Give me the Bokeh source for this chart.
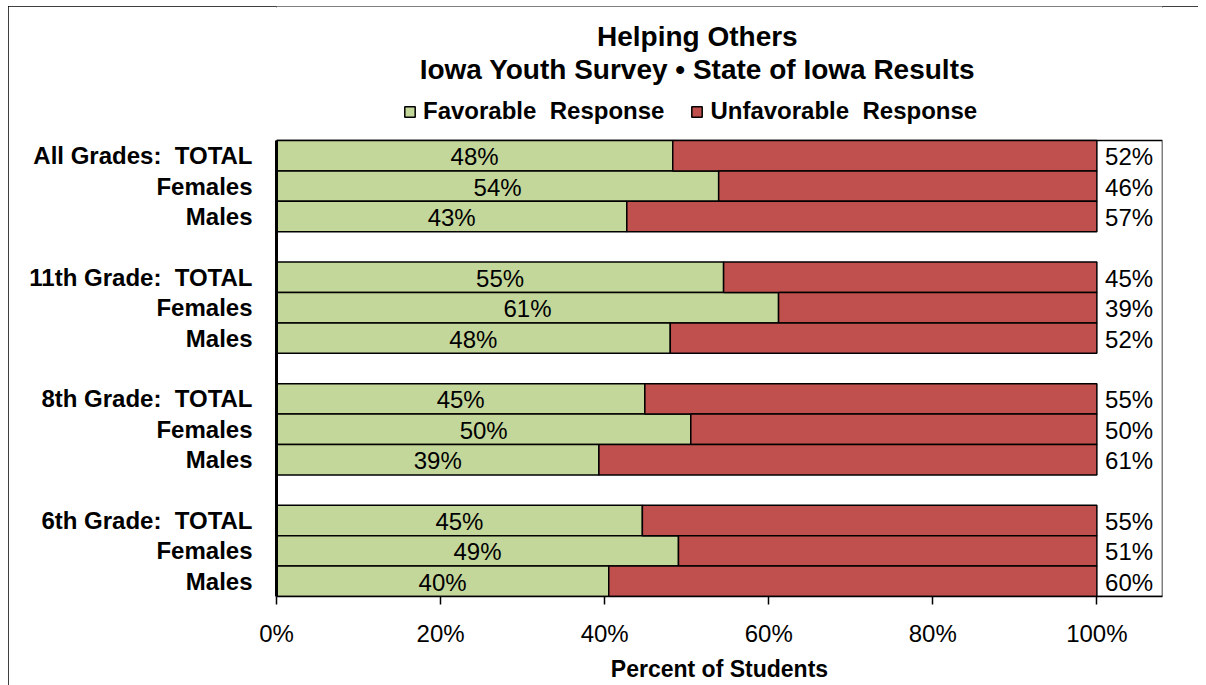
from bokeh.plotting import figure
from bokeh.models import (ColumnDataSource, FixedTicker, Range1d, Legend, LegendItem, Label)
from bokeh.core.properties import value
from bokeh.embed import file_html
from bokeh.resources import INLINE

categories = ["All Grades:\u00a0\u00a0TOTAL", "Females", "Males",
              "11th Grade:\u00a0\u00a0TOTAL", "Females", "Males",
              "8th Grade:\u00a0\u00a0TOTAL", "Females", "Males",
              "6th Grade:\u00a0\u00a0TOTAL", "Females", "Males"]
favorable = [48.3, 53.9, 42.7, 54.5, 61.2, 48.0, 44.9, 50.5, 39.3, 44.6, 49.0, 40.5]
fav_labels = ["48%", "54%", "43%", "55%", "61%", "48%", "45%", "50%", "39%", "45%", "49%", "40%"]
unfav_labels = ["52%", "46%", "57%", "45%", "39%", "52%", "55%", "50%", "61%", "55%", "51%", "60%"]
x_ticks = [0, 20, 40, 60, 80, 100]
title_lines = ["Helping Others", "Iowa Youth Survey \u2022 State of Iowa Results"]
series_names = ["Favorable\u00a0\u00a0Response", "Unfavorable\u00a0\u00a0Response"]

FONT = "Liberation Sans"
GREEN = "#C4D79B"
RED = "#C0504D"

ypos = [i + i // 3 for i in range(len(categories))]
src = ColumnDataSource(dict(
    y=ypos,
    fav=favorable,
    total=[100] * len(favorable),
    favmid=[f / 2 for f in favorable],
    favlab=fav_labels,
    unflab=unfav_labels,
    rx=[101] * len(favorable),
))

# frame covers the title area too; bar area is y in [-0.5, 14.5]
p = figure(width=1190, height=679, output_backend="svg", toolbar_location=None,
           x_range=Range1d(0, 108), y_range=Range1d(14.5, -4.908),
           min_border_left=268, min_border_right=36, min_border_top=0,
           min_border_bottom=89)
p.styles = {"outline": "2px solid black", "outline-offset": "-2px",
            "position": "relative", "left": "8px", "top": "6px"}

# plot-area box
p.quad(left=[0], right=[108], top=[-0.5], bottom=[14.5], fill_color=None,
       line_color="black", line_width=1.5)

r_fav = p.hbar(y="y", left=0, right="fav", height=1.0, source=src,
               fill_color=GREEN, line_color="black", line_width=1.5)
r_unf = p.hbar(y="y", left="fav", right="total", height=1.0, source=src,
               fill_color=RED, line_color="black", line_width=1.5)

p.text(x="favmid", y="y", text="favlab", source=src, text_align="center",
       text_baseline="middle", text_font=value(FONT), text_font_size="24px",
       text_color="black", y_offset=1)
p.text(x="rx", y="y", text="unflab", source=src, text_align="left",
       text_baseline="middle", text_font=value(FONT), text_font_size="24px",
       text_color="black", y_offset=1)

p.xgrid.visible = False
p.ygrid.visible = False
p.outline_line_color = None

# x axis
xa = p.xaxis[0]
xa.ticker = FixedTicker(ticks=x_ticks)
xa.major_label_overrides = {t: f"{t}%" for t in x_ticks}
xa.minor_tick_line_color = None
xa.major_tick_in = 0
xa.major_tick_out = 8
xa.major_tick_line_color = "black"
xa.major_tick_line_width = 1.5
xa.axis_line_color = "black"
xa.axis_line_width = 1.5
xa.major_label_text_font = FONT
xa.major_label_text_font_size = "24px"
xa.major_label_text_color = "black"
xa.major_label_standoff = 15
xa.axis_label = "Percent of Students"
xa.axis_label_text_font = FONT
xa.axis_label_text_font_size = "23px"
xa.axis_label_text_font_style = "bold"
xa.axis_label_text_color = "black"
xa.axis_label_standoff = 6

# y axis
ya = p.yaxis[0]
ya.bounds = (-0.5, 14.5)
ya.ticker = FixedTicker(ticks=ypos)
ya.major_label_overrides = {y: c for y, c in zip(ypos, categories)}
ya.minor_tick_line_color = None
ya.major_tick_line_color = None
ya.major_tick_in = 0
ya.major_tick_out = 0
ya.axis_line_color = "black"
ya.axis_line_width = 3
ya.major_label_text_font = FONT
ya.major_label_text_font_size = "24px"
ya.major_label_text_font_style = "bold"
ya.major_label_text_color = "black"
ya.major_label_standoff = 24

# titles
for txt, yy in zip(title_lines, [-3.92, -2.84]):
    p.add_layout(Label(x=51.3, y=yy, text=txt, text_align="center",
                       text_baseline="middle", text_font=FONT, text_font_size="28px",
                       text_font_style="bold", text_color="black"))

legend = Legend(items=[LegendItem(label=series_names[0], renderers=[r_fav]),
                       LegendItem(label=series_names[1], renderers=[r_unf])],
                orientation="horizontal", location=(127, 471),
                glyph_width=13, glyph_height=13, label_standoff=7, spacing=26,
                padding=0, margin=0, border_line_color=None,
                background_fill_alpha=0, label_text_font=FONT,
                label_text_font_size="24px", label_text_font_style="bold",
                label_text_color="black")
p.add_layout(legend, "center")

open("out.html", "w").write(file_html(p, INLINE))
